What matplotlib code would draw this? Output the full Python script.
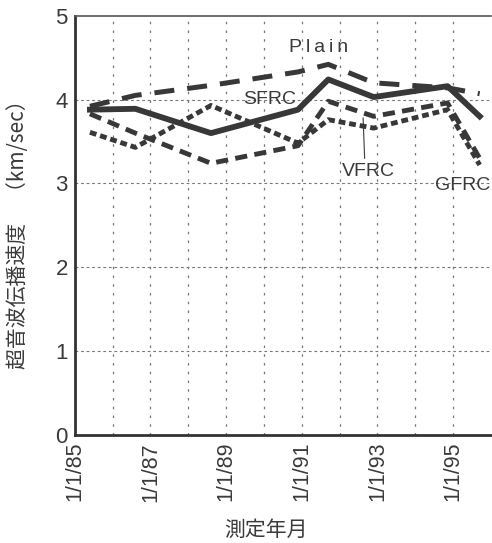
import matplotlib
matplotlib.use("Agg")
import matplotlib.pyplot as plt

plt.rcParams['font.family'] = ['Liberation Sans', 'Noto Sans CJK JP', 'DejaVu Sans']

# measurement dates (decimal years)
dates = [1985.4, 1986.6, 1988.6, 1990.9, 1991.7, 1992.9, 1994.85, 1995.7]
plain = [3.92, 4.05, 4.17, 4.33, 4.42, 4.20, 4.14, 4.07]
sfrc = [3.88, 3.89, 3.60, 3.88, 4.24, 4.03, 4.16, 3.80]
vfrc = [3.83, 3.60, 3.24, 3.45, 3.98, 3.80, 3.96, 3.30]
gfrc = [3.61, 3.43, 3.93, 3.48, 3.76, 3.66, 3.88, 3.22]

xticks = [1985, 1987, 1989, 1991, 1993, 1995]
xticklabels = ['1/1/85', '1/1/87', '1/1/89', '1/1/91', '1/1/93', '1/1/95']
yticks = [0, 1, 2, 3, 4, 5]

col = '#383838'
tcol = '#3a3a3a'
fig = plt.figure(figsize=(4.92, 5.43), dpi=100)
ax = fig.add_axes([0.152, 0.199, 0.846, 0.772])

ax.set_xlim(1985, 1996)
ax.set_ylim(0, 5)

# grid
for yr in range(1986, 1996):
    ax.axvline(yr, color='#777777', lw=0.9, ls=(0, (2, 5)), zorder=0)
for yv in [1, 2, 3, 4]:
    ax.axhline(yv, color='#777777', lw=0.8, ls=(0, (2.5, 2.5)), zorder=0)

ax.plot(dates, plain, color=col, lw=3.6, ls=(0, (4.0, 2.6)))
ax.plot(dates, sfrc, color=col, lw=4.2, ls='-')
ax.plot(dates, vfrc, color=col, lw=3.5, ls=(0, (2.5, 1.5)))
ax.plot(dates, gfrc, color=col, lw=3.5, ls=(0, (1.4, 0.8)))

ax.text(1991.45, 4.62, 'P\u2009l\u2009a\u2009i\u2009n', fontsize=14, color=tcol,
        ha='center', va='center', family=['Liberation Sans', 'DejaVu Sans'])
ax.text(1990.15, 4.0, 'SFRC', fontsize=14, color=tcol, ha='center', va='center')
ax.text(1992.75, 3.14, 'VFRC', fontsize=14, color=tcol, ha='center', va='center')
ax.text(1995.25, 2.98, 'GFRC', fontsize=14, color=tcol, ha='center', va='center')
ax.plot([1992.66, 1992.62], [3.30, 3.78], color=tcol, lw=0.8)

ax.set_xticks(xticks)
ax.set_xticklabels(xticklabels, rotation=90, fontsize=15.5, color=tcol)
ax.set_yticks(yticks)
ax.set_yticklabels([str(v) for v in yticks], fontsize=16, color=tcol)
ax.tick_params(length=0, pad=5)

for s in ['left', 'bottom']:
    ax.spines[s].set_linewidth(2.0)
    ax.spines[s].set_color('#333333')
ax.spines['top'].set_linewidth(1.2)
ax.spines['top'].set_color('#555555')
ax.spines['right'].set_visible(False)

ax.set_xlabel('測定年月', fontsize=15, color=tcol,
              family=['Noto Sans CJK JP', 'DejaVu Sans'])
ax.xaxis.set_label_coords(0.46, -0.2)
ax.set_ylabel('超音波伝播速度\u3000（km/sec）', fontsize=15, color=tcol,
              family=['Noto Sans CJK JP', 'DejaVu Sans'])
ax.yaxis.set_label_coords(-0.11, 0.49)

fig.savefig('out.png', dpi=100)
